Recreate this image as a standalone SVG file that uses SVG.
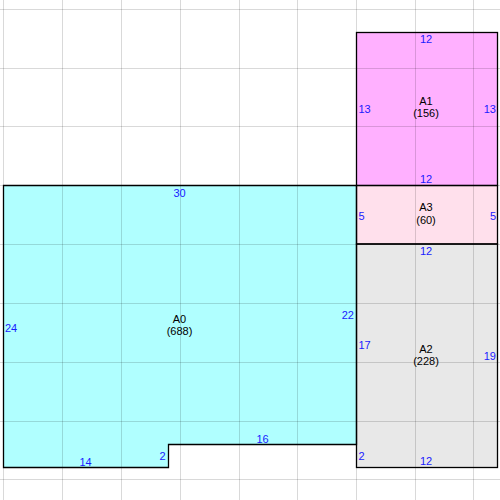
<svg xmlns="http://www.w3.org/2000/svg" width="500" height="500" viewBox="0 0 500 500">
<style>
.grid{stroke:#000;stroke-opacity:0.15;stroke-width:1;fill:none}
.room{stroke:none}
.dim{font-family:"Liberation Sans",Arial,sans-serif;font-size:11px;fill:#1a1aff}
.name{font-family:"Liberation Sans",Arial,sans-serif;font-size:11px;fill:#000;text-anchor:middle}
</style>
<rect width="500" height="500" fill="#fff"/>
<g id="A0">
<path class="room" fill="#b0ffff" d="M3.5,185.5 H356.5 V444.5 H168.5 V467.5 H3.5 Z"/>
</g>
<g id="A1">
<rect class="room" fill="#ffb0ff" x="356.5" y="32.5" width="141" height="153"/>
</g>
<g id="A3">
<rect class="room" fill="#ffe0ec" x="356.5" y="185.5" width="141" height="58.5"/>
</g>
<g id="A2">
<rect class="room" fill="#e8e8e8" x="356.5" y="244" width="141" height="223.5"/>
</g>
<g id="grid" class="grid">
<path d="M3.5,0V500M62.5,0V500M121.5,0V500M180.5,0V500M239.5,0V500M297.5,0V500M356.5,0V500M415.5,0V500M473.5,0V500"/>
<path d="M0,9.5H500M0,68.5H500M0,126.5H500M0,185.5H500M0,244.5H500M0,303.5H500M0,362.5H500M0,421.5H500M0,479.5H500"/>
</g>
<g id="outlines" fill="none" stroke="#000" stroke-width="1.3">
<path d="M3.5,185.5 H356.5 V444.5 H168.5 V467.5 H3.5 Z"/>
<rect x="356.5" y="32.5" width="141" height="153"/>
<rect x="356.5" y="185.5" width="141" height="58.5"/>
<rect x="356.5" y="244" width="141" height="223.5"/>
</g>
<g id="labels">
<text class="dim" x="426" y="43" text-anchor="middle">12</text>
<text class="dim" x="358.5" y="113">13</text>
<text class="dim" x="496" y="113" text-anchor="end">13</text>
<text class="name" x="426" y="105">A1</text>
<text class="name" x="426" y="117">(156)</text>
<text class="dim" x="426" y="183" text-anchor="middle">12</text>
<text class="name" x="426" y="211">A3</text>
<text class="name" x="426" y="224">(60)</text>
<text class="dim" x="358.5" y="219.5">5</text>
<text class="dim" x="496" y="219.5" text-anchor="end">5</text>
<text class="dim" x="426" y="255" text-anchor="middle">12</text>
<text class="dim" x="354" y="319" text-anchor="end">22</text>
<text class="dim" x="358.5" y="348.5">17</text>
<text class="name" x="426" y="352.5">A2</text>
<text class="name" x="426" y="364.5">(228)</text>
<text class="dim" x="496" y="360" text-anchor="end">19</text>
<text class="dim" x="262.5" y="442.5" text-anchor="middle">16</text>
<text class="dim" x="358.5" y="460">2</text>
<text class="dim" x="426" y="465" text-anchor="middle">12</text>
<text class="dim" x="5" y="331.5">24</text>
<text class="name" x="179.5" y="323">A0</text>
<text class="name" x="179.5" y="335">(688)</text>
<text class="dim" x="85.5" y="465.5" text-anchor="middle">14</text>
<text class="dim" x="165.5" y="460" text-anchor="end">2</text>
<text class="dim" x="179.5" y="196.5" text-anchor="middle">30</text>
</g>
</svg>
